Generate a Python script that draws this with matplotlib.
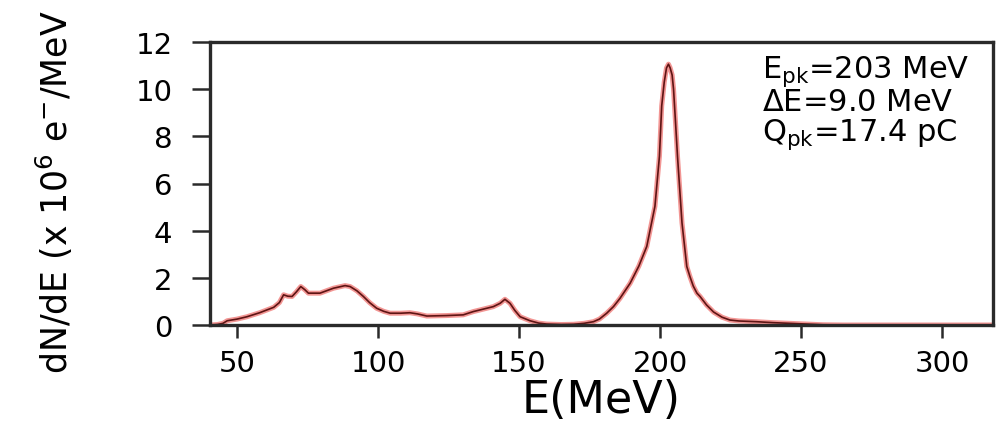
import numpy as np
import matplotlib
matplotlib.use('Agg')
import matplotlib.pyplot as plt

plt.rcParams['font.family'] = 'DejaVu Sans'
plt.rcParams['mathtext.default'] = 'regular'

# spectrum: energy (MeV) and dN/dE (x 10^6 e-/MeV)
energy = [40.5, 43, 45, 46.5, 50, 53.5, 58, 63, 65, 66.5, 68, 69.5, 71, 72.6, 74,
          75.3, 79.4, 84.2, 88.3, 90.1, 92.5, 94.8, 97, 99.5, 102, 104.3, 108,
          111.3, 114, 117.3, 124.3, 130.2, 133.8, 136.2, 140.9, 143.3, 145,
          146.8, 148.5, 150.4, 153.9, 157, 159.8, 165, 169.3, 173, 176.4, 178.5,
          181.1, 183.5, 185.8, 189.4, 192.5, 195.3, 198.2, 199.8, 200.6, 201.5,
          202.3, 203.0, 203.6, 204.3, 204.8, 205.5, 206.2, 207.8, 209.5, 210.6,
          211.8, 213.1, 214.2, 216.5, 219, 222, 224.8, 228, 234.2, 240, 246,
          252, 257.8, 265, 280, 300, 318]
dnde = [0.0, 0.02, 0.07, 0.18, 0.25, 0.35, 0.52, 0.75, 0.95, 1.28, 1.22, 1.21,
        1.40, 1.63, 1.50, 1.35, 1.35, 1.56, 1.67, 1.63, 1.45, 1.21, 0.95, 0.71,
        0.58, 0.50, 0.50, 0.52, 0.47, 0.38, 0.40, 0.43, 0.57, 0.64, 0.78, 0.92,
        1.09, 0.92, 0.62, 0.35, 0.18, 0.08, 0.04, 0.02, 0.03, 0.07, 0.14, 0.25,
        0.50, 0.78, 1.13, 1.77, 2.5, 3.33, 5.03, 7.16, 9.29, 10.3, 10.9, 11.06,
        10.9, 10.6, 10.0, 8.6, 7.16, 4.33, 2.48, 2.06, 1.65, 1.35, 1.21, 0.85,
        0.55, 0.33, 0.21, 0.17, 0.14, 0.10, 0.07, 0.04, 0.01, 0.0, 0.0, 0.0, 0.0]

xticks = [50, 100, 150, 200, 250, 300]
yticks = [0, 2, 4, 6, 8, 10, 12]
notes = [r'E$_{pk}$=203 MeV', r'$\Delta$E=9.0 MeV', r'Q$_{pk}$=17.4 pC']

W, H = 996, 427
fig = plt.figure(figsize=(W / 100, H / 100), dpi=100)
ax = fig.add_axes([210 / W, 1 - 326 / H, 783 / W, 283 / H])

# red halo with a dark core, like the scanned trace
ax.plot(energy, dnde, color='#e8403c', lw=3.6, alpha=0.55, solid_capstyle='round')
ax.plot(energy, dnde, color='#5e1414', lw=1.2)

ax.set_xlim(40.4, 318.1)
ax.set_ylim(0, 12)
ax.set_xticks(xticks)
ax.set_yticks(yticks)

for s in ax.spines.values():
    s.set_linewidth(2.4)
    s.set_color('#2a2a2a')

ax.tick_params(axis='y', length=13, width=1.8, pad=14, labelsize=21, color='#2a2a2a')
ax.tick_params(axis='x', length=9, width=1.8, pad=8, labelsize=21, color='#2a2a2a')

ax.set_xlabel('E(MeV)', fontsize=32, labelpad=1)
fig.text(54 / W, 1 - 192 / H, r'dN/dE (x 10$^6$ e$^{-}$/MeV', rotation=90,
         fontsize=25, ha='center', va='center')

# peak summary as one block of three lines
fig.text(762 / W, 1 - 54 / H, '\n'.join(notes), fontsize=22, ha='left', va='top',
         linespacing=0.98)

fig.savefig('out.png', dpi=100)
